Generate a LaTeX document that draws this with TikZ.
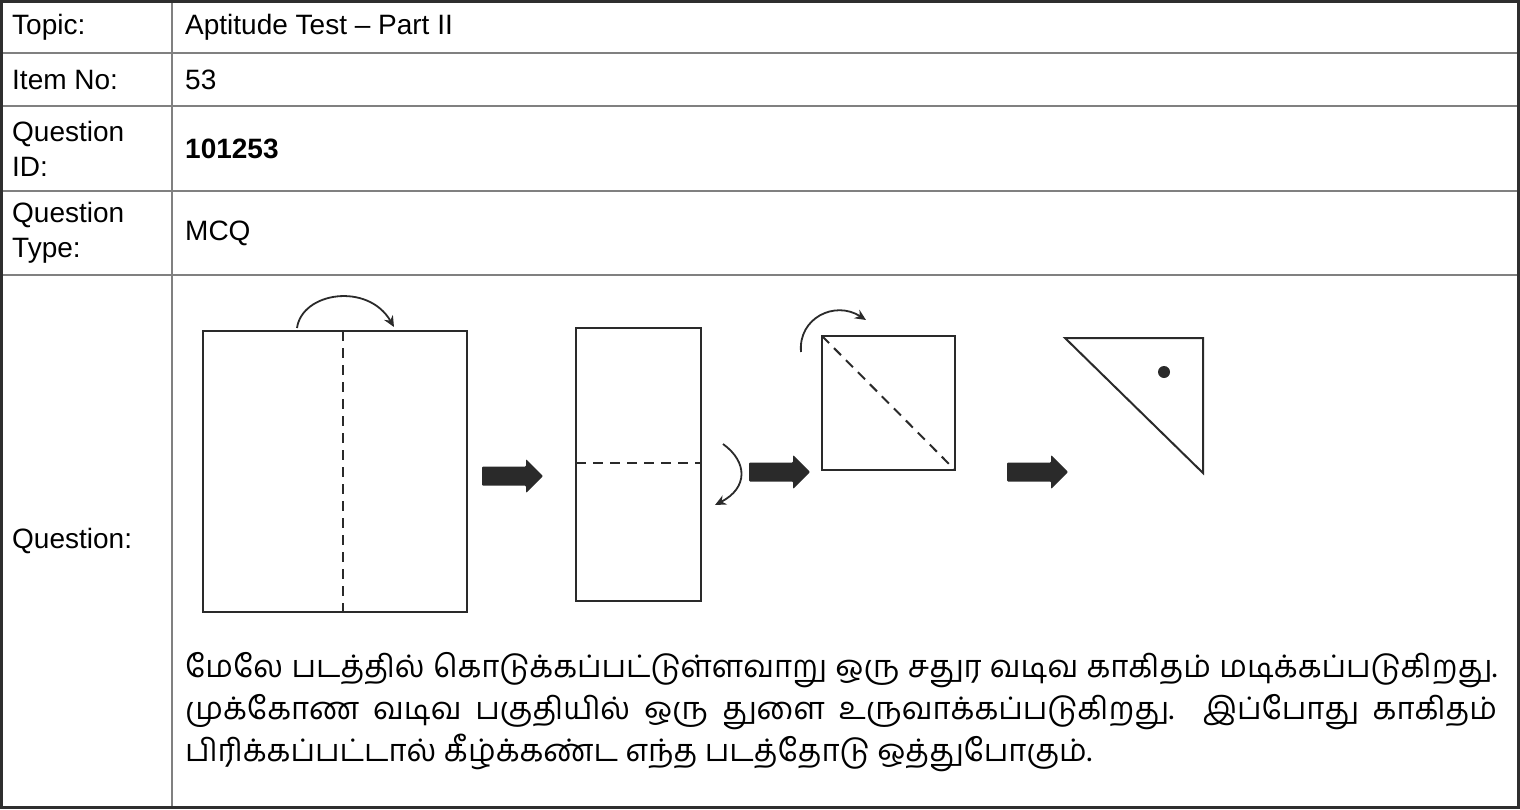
\documentclass[tikz,border=0pt]{standalone}
\usepackage{fontspec}
\setmainfont{Liberation Sans}
\newfontfamily\tamilfont[Script=Tamil]{Hind Madurai}
\usetikzlibrary{arrows.meta}
\definecolor{gridgray}{HTML}{808080}
\definecolor{framegray}{HTML}{2E2E2E}
\definecolor{inkgray}{HTML}{2A2A2A}
\def\bigarrow{++(0,-9.5) -- ++(44,0) -- ++(0,-7.5) -- ++(17,17) -- ++(-17,17) -- ++(0,-7.5) -- ++(-44,0) -- cycle}

\begin{document}
\begin{tikzpicture}[x=1pt,y=-1pt,
    cell/.style={anchor=west,inner sep=0pt,align=left,font=\fontsize{28}{35}\selectfont},
    tamilline/.style={anchor=base west,inner sep=0pt,font=\tamilfont\fontsize{31}{37}\selectfont},
    paper/.style={draw=inkgray,line width=2pt},
    fold/.style={dash pattern=on 10pt off 7pt},
    turn/.style={draw=inkgray,line width=1.8pt,-{Stealth[length=11pt,width=10pt]}},
    fatarrow/.style={fill=inkgray,rounded corners=1pt}]
    \useasboundingbox (0,0) rectangle (1520,809);
    % table grid
    \foreach \y in {53,106,191,275}
        \draw[gridgray,line width=2pt] (0,\y) -- (1520,\y);
    \draw[gridgray,line width=2pt] (172,0) -- (172,809);
    \draw[framegray,line width=3pt] (1.5,1.5) rectangle (1518.5,807.5);
    % labels and values
    \node[cell] (topiclbl) at (12,27) {Topic:};
    \node[cell] (topicval) at (185,27) {Aptitude Test – Part II};
    \node[cell] (itemlbl) at (12,80) {Item No:};
    \node[cell] (itemval) at (185,80) {53};
    \node[cell] (qidlbl) at (12,149) {Question\\ID:};
    \node[cell] (qidval) at (185,149) {\bfseries 101253};
    \node[cell] (qtypelbl) at (12,233) {Question\\Type:};
    \node[cell] (qtypeval) at (185,233) {MCQ};
    \node[cell] (qlbl) at (12,541) {Question:};
    % folding steps
    \draw[paper] (203,331) rectangle (467,612);
    \draw[paper,fold] (343,331) -- (343,612);
    \draw[turn] (297,328) .. controls (302,292) and (368,282) .. (394,327);
    \fill[fatarrow] (482,476) \bigarrow;
    \draw[paper] (576,328) rectangle (701,601);
    \draw[paper,fold] (576,463) -- (701,463);
    \draw[turn] (723,444) .. controls (748,462) and (748,488) .. (715,505);
    \fill[fatarrow] (749,472) \bigarrow;
    \draw[paper] (822,336) rectangle (955,470);
    \draw[paper,fold] (822,336) -- (955,470);
    \draw[turn] (801,352) .. controls (798,318) and (835,300) .. (866,320);
    \fill[fatarrow] (1007,472) \bigarrow;
    \draw[paper] (1065,338) -- (1203,338) -- (1203,473) -- cycle;
    \fill[inkgray] (1164,372) circle (6pt);
    % question text
    \node[tamilline] (line1) at (185,677) {\makebox[1312pt][s]{மேலே படத்தில் கொடுக்கப்பட்டுள்ளவாறு ஒரு சதுர வடிவ காகிதம் மடிக்கப்படுகிறது.}};
    \node[tamilline] (line2) at (185,719) {\makebox[1312pt][s]{முக்கோண வடிவ பகுதியில் ஒரு துளை உருவாக்கப்படுகிறது. இப்போது காகிதம்}};
    \node[tamilline] (line3) at (185,761) {பிரிக்கப்பட்டால் கீழ்க்கண்ட எந்த படத்தோடு ஒத்துபோகும்.};
\end{tikzpicture}
\end{document}
